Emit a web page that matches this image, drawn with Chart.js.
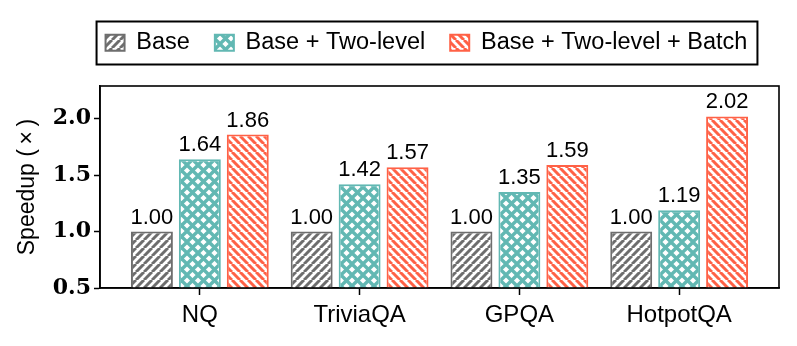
<!DOCTYPE html>
<html>
<head>
<meta charset="utf-8">
<script src="https://cdn.jsdelivr.net/npm/chart.js@4.4.0/dist/chart.umd.min.js"></script>
<style>
  body { margin: 0; background: #fff; }
  canvas { display: block; }
</style>
</head>
<body>
<canvas id="speedupChart" width="797" height="346"></canvas>
<script>
//chart data
var categories = ['NQ', 'TriviaQA', 'GPQA', 'HotpotQA'];
var seriesNames = ['Base', 'Base + Two-level', 'Base + Two-level + Batch'];
var baseValues = [1.00, 1.00, 1.00, 1.00];
var twoLevelValues = [1.64, 1.42, 1.35, 1.19];
var batchValues = [1.86, 1.57, 1.59, 2.02];
var yTicks = [0.5, 1.0, 1.5, 2.0];

var canvas = document.getElementById('speedupChart');
var ctx = canvas.getContext('2d');

//hatch fills like matplotlib ('/', 'x', '\')
function makeHatch(color, kind, size, lineWidth) {
    var tile = document.createElement('canvas');
    tile.width = size;
    tile.height = size;
    var c = tile.getContext('2d');
    c.fillStyle = '#ffffff';
    c.fillRect(0, 0, size, size);
    c.strokeStyle = color;
    c.lineWidth = lineWidth;
    function diag(up) {
        for (var k = -1; k <= 1; k++) {
            c.beginPath();
            if (up) {
                c.moveTo(k * size, size);
                c.lineTo(k * size + size, 0);
            } else {
                c.moveTo(k * size, 0);
                c.lineTo(k * size + size, size);
            }
            c.stroke();
        }
    }
    if (kind === '/' || kind === 'x') diag(true);
    if (kind === '\\' || kind === 'x') diag(false);
    return ctx.createPattern(tile, 'repeat');
}

var gray = '#6e6e6e';
var teal = '#62b8b3';
var red = '#ff6146';

function toPoints(values) {
    return values.map((v, i) => ({ x: i, y: v }));
}

//legend frame + bar labels + axes frame
var decorations = {
    id: 'decorations',
    beforeInit: function (chart) {
        var fitLegend = chart.legend.fit;
        chart.legend.fit = function () {
            fitLegend.bind(chart.legend)();
            this.height = 80;
        };
    },
    afterLayout: function (chart) {
        // legend sits a bit right of canvas centre
        chart.legend.left += 37;
        chart.legend.right += 37;
    },
    afterDatasetsDraw: function (chart) {
        var c = chart.ctx;
        var area = chart.chartArea;
        c.save();
        c.font = '22px "Liberation Sans"';
        c.fillStyle = '#000';
        c.textAlign = 'center';
        c.textBaseline = 'alphabetic';
        chart.data.datasets.forEach((ds, di) => {
            chart.getDatasetMeta(di).data.forEach((bar, i) => {
                c.fillText(ds.data[i].y.toFixed(2), bar.x, bar.y - 8);
            });
        });
        c.strokeStyle = '#000';
        c.lineWidth = 1.6;
        c.strokeRect(area.left, area.top, area.right - area.left, area.bottom - area.top);
        c.restore();
    },
    afterDraw: function (chart) {
        var boxes = chart.legend.legendHitBoxes;
        if (!boxes || !boxes.length) return;
        var first = boxes[0];
        var last = boxes[boxes.length - 1];
        var c = chart.ctx;
        c.save();
        c.strokeStyle = '#000';
        c.lineWidth = 2;
        c.strokeRect(first.left - 9, first.top - 9.5, last.left + last.width - first.left + 19, first.height + 19.5);
        c.restore();
    }
};

Chart.defaults.font.family = '"Liberation Sans", Arial, sans-serif';
Chart.defaults.color = '#000';

var speedupChart = new Chart(ctx, {
    type: 'bar',
    data: {
        datasets: [{
            label: seriesNames[0],
            data: toPoints(baseValues),
            backgroundColor: makeHatch(gray, '/', 8, 3),
            borderColor: gray,
            borderWidth: 2
        }, {
            label: seriesNames[1],
            data: toPoints(twoLevelValues),
            backgroundColor: makeHatch(teal, 'x', 11, 3.4),
            borderColor: teal,
            borderWidth: 2
        }, {
            label: seriesNames[2],
            data: toPoints(batchValues),
            backgroundColor: makeHatch(red, '\\', 8, 3),
            borderColor: red,
            borderWidth: 2
        }]
    },
    options: {
        responsive: false,
        animation: false,
        categoryPercentage: 0.9,
        barPercentage: 0.875,
        layout: {
            padding: { top: 6, right: 18, bottom: 0, left: 0 }
        },
        plugins: {
            tooltip: { enabled: false },
            legend: {
                position: 'top',
                labels: {
                    boxWidth: 19,
                    boxHeight: 16,
                    padding: 25,
                    font: { size: 23.5 }
                }
            }
        },
        scales: {
            x: {
                type: 'linear',
                offset: false,
                min: -0.625,
                max: 3.625,
                afterBuildTicks: function (scale) {
                    scale.ticks = categories.map((c, i) => ({ value: i }));
                },
                afterFit: function (scale) {
                    scale.height = 58;
                },
                grid: {
                    offset: false,
                    drawOnChartArea: false,
                    tickLength: 7,
                    tickWidth: 1.5,
                    tickColor: '#000'
                },
                border: { color: '#000', width: 1.6 },
                ticks: {
                    padding: 6,
                    font: { size: 24 },
                    callback: function (value) {
                        return categories[value];
                    }
                }
            },
            y: {
                min: 0.5,
                max: 2.29,
                afterBuildTicks: function (scale) {
                    scale.ticks = yTicks.map(v => ({ value: v }));
                },
                afterFit: function (scale) {
                    scale.width = 100;
                },
                grid: {
                    drawOnChartArea: false,
                    tickLength: 6,
                    tickWidth: 1.5,
                    tickColor: '#000'
                },
                border: { color: '#000', width: 1.6 },
                ticks: {
                    padding: 3,
                    font: { family: '"DejaVu Serif", serif', size: 22, weight: 'bold' },
                    callback: function (value) {
                        return value.toFixed(1);
                    }
                },
                title: {
                    display: true,
                    text: 'Speedup (\u2009×\u2009)',
                    font: { size: 23 },
                    padding: { top: 14, bottom: 0 }
                }
            }
        }
    },
    plugins: [decorations]
});
</script>
</body>
</html>
